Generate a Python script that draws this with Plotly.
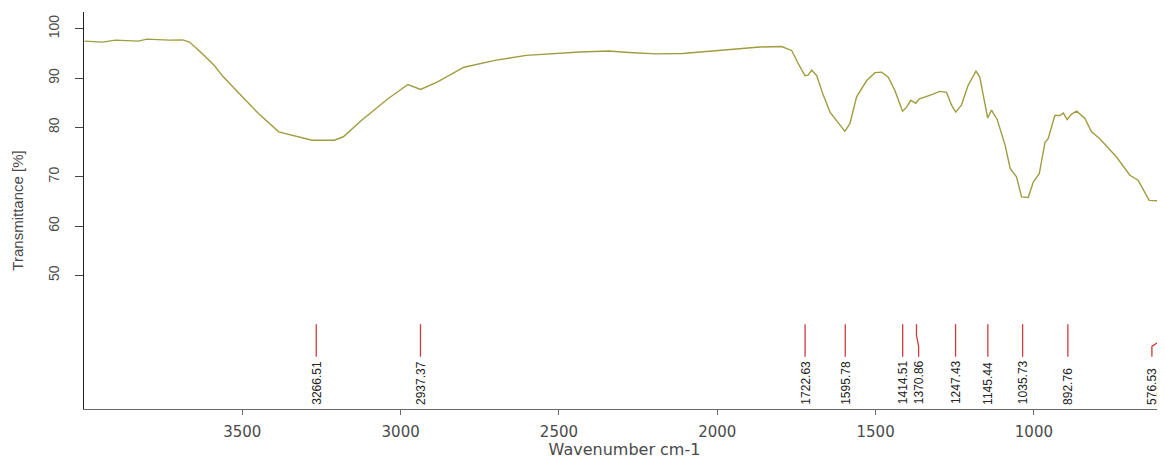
import plotly.graph_objects as go

# ---- data ----
wavenumber = [3998, 3942, 3900, 3829, 3801, 3731, 3688, 3667, 3632, 3589, 3561, 3519,
              3449, 3385, 3308, 3280, 3209, 3181, 3124, 3040, 2977, 2937, 2885, 2800,
              2702, 2603, 2434, 2342, 2279, 2194, 2109, 1970, 1865, 1797, 1765, 1744,
              1723, 1713, 1702, 1686, 1665, 1644, 1628, 1597, 1581, 1560, 1528, 1502,
              1481, 1460, 1439, 1415, 1402, 1389, 1373, 1362, 1329, 1297, 1276, 1260,
              1247, 1229, 1208, 1183, 1171, 1158, 1146, 1134, 1116, 1091, 1075, 1055,
              1039, 1018, 1002, 983, 965, 955, 934, 918, 907, 895, 881, 865, 839, 818,
              792, 739, 697, 671, 636, 607, 586]
transmittance = [97.5, 97.3, 97.7, 97.5, 97.9, 97.7, 97.75, 97.3, 95.3, 92.6, 90.3, 87.5,
                 82.8, 79.1, 77.9, 77.4, 77.4, 78.1, 81.4, 85.8, 88.7, 87.7, 89.2, 92.2,
                 93.6, 94.6, 95.3, 95.5, 95.2, 94.9, 95.0, 95.8, 96.3, 96.4, 95.6, 92.9,
                 90.5, 90.6, 91.6, 90.5, 86.5, 83.1, 81.8, 79.2, 80.8, 86.2, 89.5, 91.1,
                 91.2, 90.2, 87.5, 83.3, 84.1, 85.5, 84.9, 85.8, 86.5, 87.3, 87.1, 84.5,
                 83.1, 84.5, 88.5, 91.4, 90.2, 85.5, 81.9, 83.5, 81.6, 76.4, 71.7, 70.0,
                 65.9, 65.8, 68.9, 70.6, 77.0, 77.7, 82.4, 82.4, 82.9, 81.6, 82.7, 83.3,
                 81.8, 79.1, 77.7, 74.0, 70.3, 69.3, 65.2, 65.1, 64.4]

peak_wn = [3266.51, 2937.37, 1722.63, 1595.78, 1414.51, 1370.86, 1247.43, 1145.44,
           1035.73, 892.76, 576.53, 555.46]
# where each label is placed (shifted when labels would collide)
label_wn = [3266.51, 2937.37, 1722.63, 1595.78, 1414.51, 1364.1, 1247.43, 1145.44,
            1035.73, 892.76, 627.4, 595.8]

x_ticks = [3500, 3000, 2500, 2000, 1500, 1000]
y_ticks = [50, 60, 70, 80, 90, 100]

# ---- styling constants ----
X_RANGE = [4000, 586]
Y_RANGE = [22.9, 103.4]
MARK_TOP, BEND_TOP, BEND_BOTTOM, MARK_BOTTOM = 40.1, 37.8, 35.6, 33.5
LABEL_BASE = 23.4
CURVE_COLOR = "#a09c40"
MARK_COLOR = "#cc3b3b"
SANS = "Liberation Sans, Arial, sans-serif"
WIDE = "DejaVu Sans, Liberation Sans, sans-serif"

fig = go.Figure()
fig.add_trace(go.Scatter(x=wavenumber, y=transmittance, mode="lines",
                         line=dict(color=CURVE_COLOR, width=1.4),
                         hoverinfo="x+y", showlegend=False))

for p, lp in zip(peak_wn, label_wn):
    if abs(p - lp) < 1e-9:
        xs, ys = [p, p], [MARK_TOP, MARK_BOTTOM]
    else:
        xs, ys = [p, p, lp, lp], [MARK_TOP, BEND_TOP, BEND_BOTTOM, MARK_BOTTOM]
    fig.add_trace(go.Scatter(x=xs, y=ys, mode="lines",
                             line=dict(color=MARK_COLOR, width=1.3),
                             hoverinfo="skip", showlegend=False))
    fig.add_annotation(x=lp, y=LABEL_BASE, xref="x", yref="y", text=f"{p:.2f}",
                       textangle=-90, showarrow=False, xanchor="center", yanchor="bottom",
                       font=dict(family=SANS, size=12, color="#222222"))

# the page body has an 8 px margin, so the figure is sized to fill the rest
fig.update_layout(
    width=1157, height=451,
    margin=dict(l=76, r=0, t=4, b=50),
    paper_bgcolor="white", plot_bgcolor="white",
    showlegend=False,
)
fig.update_xaxes(
    range=X_RANGE, tickvals=x_ticks, ticktext=[str(v) for v in x_ticks],
    showgrid=False, zeroline=False, showline=True, linecolor="#6a6a6a", linewidth=1,
    ticks="outside", ticklen=5, tickcolor="#6a6a6a", ticklabelstandoff=4,
    tickfont=dict(family=WIDE, size=15, color="#4a4a4a"),
    title=dict(text="Wavenumber cm-1", standoff=8,
               font=dict(family=WIDE, size=16, color="#4a4a4a")),
    automargin=False,
)
fig.update_yaxes(
    range=Y_RANGE, tickvals=y_ticks, ticktext=[str(v) for v in y_ticks],
    showgrid=False, zeroline=False, showline=True, linecolor="#222222", linewidth=1,
    ticks="outside", ticklen=8, tickcolor="#444444", tickangle=-90, ticklabelstandoff=10,
    tickfont=dict(family=SANS, size=14, color="#4a4a4a"),
    title=dict(text="Transmittance [%]", standoff=19,
               font=dict(family=SANS, size=15, color="#4a4a4a")),
    automargin=False,
)

fig.write_html("out.html")
